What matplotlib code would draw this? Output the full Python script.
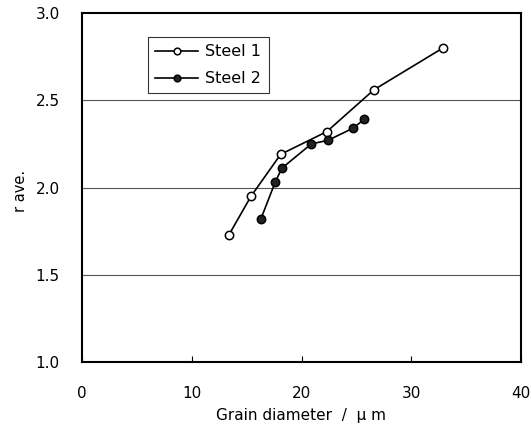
import matplotlib
matplotlib.use('Agg')
import matplotlib.pyplot as plt

# grain diameter (um) vs r ave.
steel1_d = [13.4, 15.4, 18.1, 22.3, 26.6, 32.9]
steel1_r = [1.73, 1.95, 2.19, 2.32, 2.56, 2.80]
steel2_d = [16.3, 17.6, 18.2, 20.9, 22.4, 24.7, 25.7]
steel2_r = [1.82, 2.03, 2.11, 2.25, 2.27, 2.34, 2.39]

x_ticks = [0, 10, 20, 30, 40]
y_ticks = [1.0, 1.5, 2.0, 2.5, 3.0]

plt.rcParams['font.family'] = ['DejaVu Sans', 'Noto Sans CJK JP']

fig = plt.figure(figsize=(5.31, 4.32), dpi=100)
ax = fig.add_axes([82 / 531, 70 / 432, 439 / 531, 349 / 432])

for yv in y_ticks[1:-1]:
    ax.axhline(yv, color='#555555', lw=0.8, zorder=1)

ax.plot(steel1_d, steel1_r, color='black', lw=1.2, marker='o', ms=6,
        mfc='white', mec='black', mew=1.1, label='Steel 1', zorder=3)
ax.plot(steel2_d, steel2_r, color='black', lw=1.2, marker='o', ms=6,
        mfc='#222222', mec='black', mew=1.1, label='Steel 2', zorder=3)

ax.set_xlim(0, 40)
ax.set_ylim(1.0, 3.0)
ax.set_xticks(x_ticks)
ax.set_yticks(y_ticks)
ax.set_xticklabels([str(v) for v in x_ticks], fontsize=11)
ax.set_yticklabels([f'{v:.1f}' for v in y_ticks], fontsize=11)
ax.tick_params(axis='x', direction='in', length=4, pad=17)
ax.tick_params(axis='y', length=0, pad=16)
for s in ax.spines.values():
    s.set_linewidth(1.5)

ax.set_xlabel('Grain diameter  /  \u03bc m', fontsize=11, labelpad=5)
ax.set_ylabel('r ave.', fontsize=10.5)
ax.yaxis.set_label_coords(-0.124, 0.49)

leg = ax.legend(loc='upper left', bbox_to_anchor=(0.150, 0.931), fontsize=11.5,
                frameon=True, fancybox=False, edgecolor='black', markerscale=0.8,
                handlelength=2.7, borderpad=0.45, labelspacing=0.75,
                handletextpad=0.45, borderaxespad=0)
leg.get_frame().set_linewidth(0.8)

fig.savefig('out.png', dpi=100)
